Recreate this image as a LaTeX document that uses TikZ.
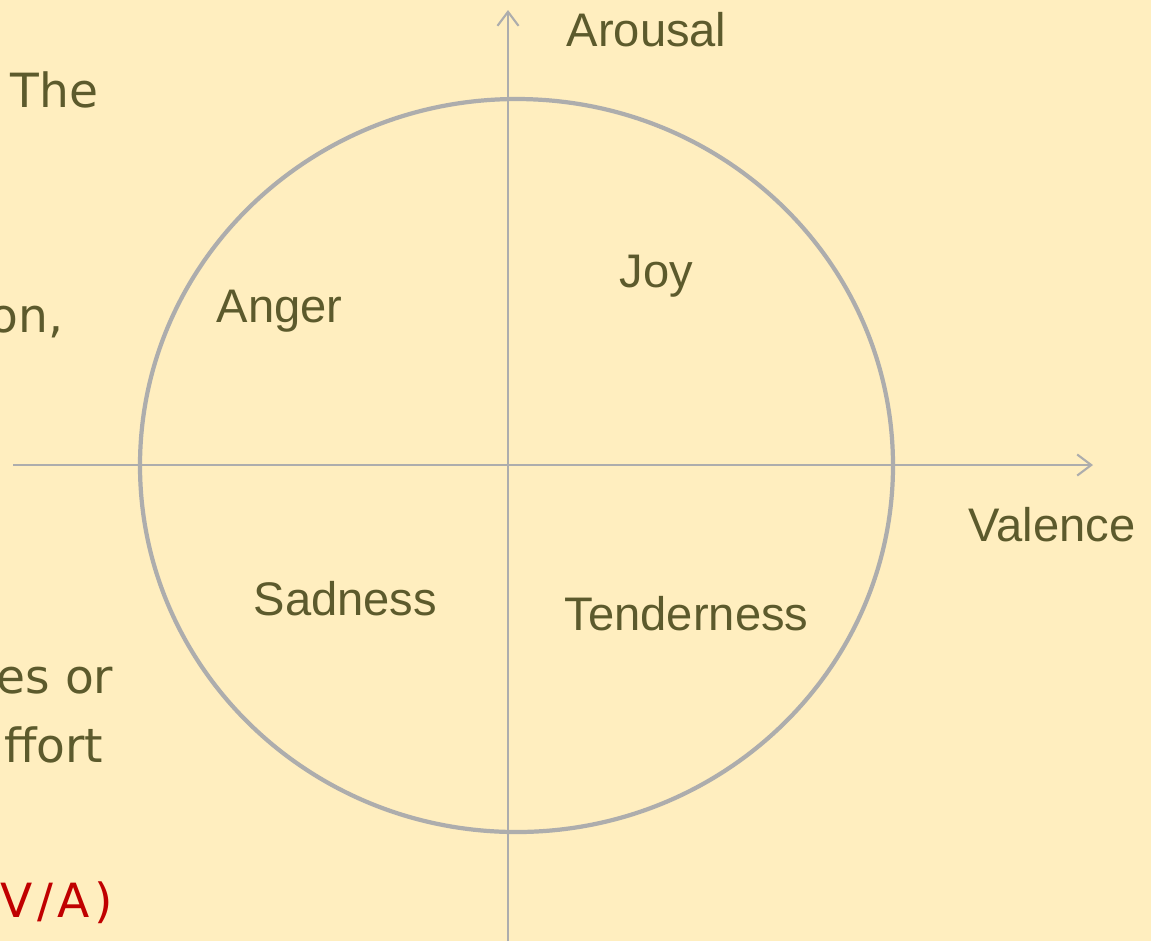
\documentclass[tikz,border=0pt]{standalone}
\usepackage{fontspec}
\usepackage{xcolor}
\usepackage{tikz}
\usetikzlibrary{arrows.meta, positioning}
\newfontfamily\diagfont{Liberation Sans}
\newfontfamily\slidefont{DejaVu Sans}
\definecolor{slidebg}{HTML}{FFEEBF}
\definecolor{olivetext}{HTML}{5C5A2C}
\definecolor{axisgray}{HTML}{ADADAD}
\definecolor{slidered}{HTML}{C00000}

\begin{document}
\begin{tikzpicture}[
  x=0.01cm, y=-0.01cm,
  emotion/.style={inner sep=0pt, anchor=base west, text=olivetext, font=\diagfont\fontsize{13.4}{16}\selectfont},
  slidetext/.style={inner sep=0pt, text=olivetext, font=\slidefont\fontsize{13.4}{16}\selectfont},
  axis/.style={draw=axisgray, line width=0.6pt, -{Straight Barb[length=4pt, width=6pt]}}
]
  % page and background
  \fill[slidebg] (0,0) rectangle (1151,941);
  \useasboundingbox (0,0) rectangle (1151,941);
  \clip (0,0) rectangle (1151,941);

  % cut-off text of the slide on the left
  \node[slidetext, anchor=base west] (the) at (10,107) {The};
  \node[slidetext, anchor=base east] (comma) at (64,332) {on,};
  \node[slidetext, anchor=base east] (esor) at (114,693) {es or};
  \node[slidetext, anchor=base east] (effort) at (104,762) {ffort};
  \node[slidetext, anchor=base east, text=slidered] (va) at (114,917) {\addfontfeature{LetterSpace=10}V/A)};

  % circle and axes
  \draw[axisgray, line width=1.2pt] (516.5,465.5) ellipse [x radius=376.5, y radius=366.5];
  \coordinate (vstart) at (508,941);
  \coordinate (vend) at (508,10);
  \coordinate (hstart) at (13,465);
  \coordinate (hend) at (1093,465);
  \draw[axis] (vstart) -- (vend);
  \draw[axis] (hstart) -- (hend);

  % axis labels
  \node[emotion] (arousal) at (566,46) {Arousal};
  \node[emotion] (valence) at (968,541) {Valence};

  % quadrants
  \node[emotion] (joy) at (619,287) {Joy};
  \node[emotion] (anger) at (216,322) {Anger};
  \node[emotion] (sadness) at (253,615) {Sadness};
  \node[emotion] (tenderness) at (564,630) {Tenderness};
\end{tikzpicture}
\end{document}
